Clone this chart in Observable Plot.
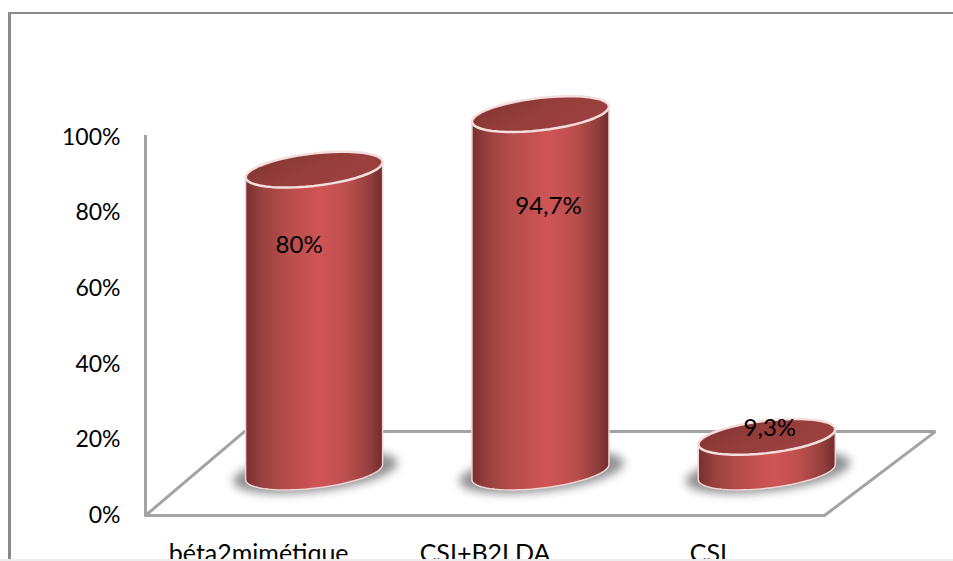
<!DOCTYPE html>
<html lang="fr">
<head>
<meta charset="utf-8">
<title>Traitement</title>
<script src="https://cdn.jsdelivr.net/npm/d3@7"></script>
<script src="https://cdn.jsdelivr.net/npm/@observablehq/plot@0.6"></script>
<style>
  html, body { margin: 0; padding: 0; background: #fff; overflow: hidden; }
  #page { position: relative; width: 953px; height: 561px; overflow: hidden; }
  #page svg { display: block; background: transparent; }
  /* Chart-area outline: top and left sides only, the rest runs off the page */
  #outline { position: absolute; left: 8px; top: 12px; right: -4px; bottom: 1px;
             border-left: 3px solid #8a8a8a; border-top: 2px solid #8a8a8a; }
  #foot { position: absolute; left: 0; right: 0; bottom: 0; height: 2px; background: #ececec; }
</style>
</head>
<body>
<div id="page"><div id="outline"></div></div>
<script>
// Share of patients per treatment
const categories = ["béta2mimétique", "CSI+B2LDA", "CSL"];
const values = [80, 94.7, 9.3];
const yTicks = [0, 20, 40, 60, 80, 100];

// 3-D box layout, in axis units (one category wide, percent high)
const floorDepthX = [0.437, 0.49];   // horizontal skew of the back edge, left and right
const floorDepthY = 22.2;            // height of the back edge on the percent axis
const columnOffset = 0.245;          // columns stand about halfway into the floor
const baseY = 11.5;
const radiusX = 0.3027;
const radiusY = 4.3;
const tiltY = 2;
const shadowGrow = 1.2;
// Label nudges in pixels from the centre of each column's top
const labelNudge = [[-15, 75.5], [8, 92], [3, -9]];

const centers = categories.map((_, i) => i + 0.5 + columnOffset);
const tops = values.map(v => baseY + v);

// Points of a tilted ellipse arc: the angle runs counter-clockwise, tilt lifts the right side
function arc(cx, cy, from, to, grow = 1) {
  const pts = [];
  for (let k = 0; k <= 48; ++k) {
    const t = from + (to - from) * k / 48;
    pts.push({x: cx + grow * radiusX * Math.cos(t),
              y: cy + grow * (tiltY * Math.cos(t) + radiusY * Math.sin(t))});
  }
  return pts;
}

const bodies = centers.flatMap((cx, i) => [
  ...arc(cx, baseY, Math.PI, 2 * Math.PI),
  ...arc(cx, tops[i], 0, Math.PI),
  arc(cx, baseY, Math.PI, Math.PI)[0]
].map(p => ({...p, id: i})));
const caps = centers.flatMap((cx, i) => arc(cx, tops[i], 0, 2 * Math.PI).map(p => ({...p, id: i})));
const shadows = centers.flatMap((cx, i) => arc(cx + 0.005, baseY, 0, 2 * Math.PI, shadowGrow).map(p => ({...p, id: i})));

const floor = [
  {x: 0, y: 0}, {x: 3, y: 0},
  {x: 3 + floorDepthX[1], y: floorDepthY},
  {x: floorDepthX[0], y: floorDepthY},
  {x: 0, y: 0}
];

const SVG_NS = "http://www.w3.org/2000/svg";
// Gradients for the shaded column sides and top caps
function gradients() {
  const defs = document.createElementNS(SVG_NS, "defs");
  defs.innerHTML = `
    <linearGradient id="side" x1="0" x2="1" y1="0" y2="0">
      <stop offset="0" stop-color="#762f2f"/>
      <stop offset="0.12" stop-color="#98423f"/>
      <stop offset="0.3" stop-color="#b64d4b"/>
      <stop offset="0.55" stop-color="#cf5555"/>
      <stop offset="0.75" stop-color="#bb4f4d"/>
      <stop offset="0.92" stop-color="#8e3d3b"/>
      <stop offset="1" stop-color="#712d2d"/>
    </linearGradient>
    <linearGradient id="cap" x1="0" x2="1" y1="0.2" y2="0.7">
      <stop offset="0" stop-color="#813433"/>
      <stop offset="0.5" stop-color="#963e3c"/>
      <stop offset="1" stop-color="#9d4140"/>
    </linearGradient>`;
  return defs;
}

const chart = Plot.plot({
  width: 953,
  height: 561,
  marginLeft: 145,
  marginRight: 129,
  marginTop: 137,
  marginBottom: 46,
  style: {fontFamily: "Lato, sans-serif", background: "transparent", overflow: "hidden", color: "#000"},
  x: {domain: [0, 3], axis: null},
  y: {domain: [0, 100], axis: null},
  marks: [
    gradients,
    Plot.ruleX([0], {y1: 0, y2: 100.5, stroke: "#a3a3a3", strokeWidth: 3}),
    Plot.line(floor, {x: "x", y: "y", stroke: "#a3a3a3", strokeWidth: 3, strokeLinejoin: "miter"}),
    Plot.axisY({ticks: yTicks, tickFormat: d => `${d}%`, tickSize: 0, tickPadding: 25, fontSize: 23, label: null}),
    Plot.axisX({
      ticks: categories.map((_, i) => i + 0.5),
      tickFormat: d => categories[Math.floor(d)],
      tickSize: 0, tickPadding: 29, fontSize: 25, label: null
    }),
    Plot.line(shadows, {x: "x", y: "y", z: "id", fill: "#6a6a6a", fillOpacity: 0.75, stroke: "none", imageFilter: "blur(5px)"}),
    Plot.line(bodies, {x: "x", y: "y", z: "id", fill: "url(#side)", stroke: "#ecd5d3", strokeWidth: 1.5}),
    Plot.line(caps, {x: "x", y: "y", z: "id", fill: "url(#cap)", stroke: "#f5dfdd", strokeWidth: 2.5}),
    ...values.map((v, i) => Plot.text([i], {
      x: () => centers[i],
      y: () => tops[i],
      text: () => `${v}%`.replace(".", ","),
      dx: labelNudge[i][0],
      dy: labelNudge[i][1],
      fontSize: 24,
      fill: "#000"
    }))
  ]
});

const page = document.getElementById("page");
page.insertBefore(chart, page.firstChild);
const foot = document.createElement("div");
foot.id = "foot";
page.appendChild(foot);
</script>
</body>
</html>
